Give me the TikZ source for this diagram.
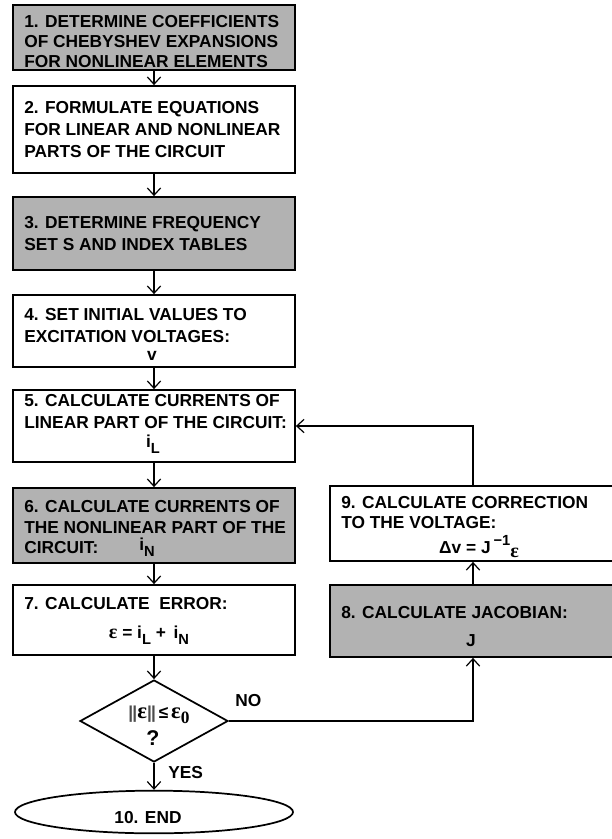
\documentclass[tikz,border=0pt]{standalone}
\usepackage{fontspec}
\setmainfont{Liberation Sans}
\newfontfamily\grk{Liberation Serif}
\usetikzlibrary{arrows.meta,shapes.geometric,fit}
\newcommand\mysub[1]{\raisebox{-4.5pt}{\fontsize{11}{11}\selectfont #1}}
\begin{document}
\begin{tikzpicture}[x=0.75pt,y=-0.75pt,
  box/.style={draw, line width=1.3pt, inner sep=0pt},
  shadebox/.style={box, fill=black!30},
  txt/.style={anchor=base west, inner sep=0pt, font=\fontsize{13}{15}\selectfont\bfseries},
  ctxt/.style={txt, anchor=base},
  arr/.style={line width=0.9pt, -{Straight Barb[length=5.5pt,width=10pt,line width=0.9pt]}}]
\useasboundingbox (0,0) rectangle (611,839);

% boxes
\node[shadebox, fit={(13,5) (295,70)}] (b1) {};
\node[box, fit={(13,86) (295,173)}] (b2) {};
\node[shadebox, fit={(13,197) (295,270)}] (b3) {};
\node[box, fit={(13,295) (295,367)}] (b4) {};
\node[box, fit={(13,390) (295,462)}] (b5) {};
\node[shadebox, fit={(13,488) (295,563)}] (b6) {};
\node[box, fit={(13,585) (295,655)}] (b7) {};
\node[box, fit={(330,486) (616,561)}] (b9) {};
\node[shadebox, fit={(330,585) (616,657)}] (b8) {};
\node[diamond, draw, line width=1.3pt, minimum width=111pt, minimum height=61.5pt, inner sep=0pt] (d) at (154,721) {};
\node[ellipse, draw, line width=1.3pt, minimum width=208.5pt, minimum height=32pt, inner sep=0pt] (e) at (154,812) {};

% texts
\node[txt] (t1a) at (24,27) {1. DETERMINE COEFFICIENTS};
\node[txt] (t1b) at (24,47) {OF CHEBYSHEV EXPANSIONS};
\node[txt] (t1c) at (24,67) {FOR NONLINEAR ELEMENTS};

\node[txt] (t2a) at (24,113) {2. FORMULATE EQUATIONS};
\node[txt] (t2b) at (24,135) {FOR LINEAR AND NONLINEAR};
\node[txt] (t2c) at (24,157) {PARTS OF THE CIRCUIT};

\node[txt] (t3a) at (24,228) {3. DETERMINE FREQUENCY};
\node[txt] (t3b) at (24,250) {SET S AND INDEX TABLES};

\node[txt] (t4a) at (24,320) {4. SET INITIAL VALUES TO};
\node[txt] (t4b) at (24,342) {EXCITATION VOLTAGES:};
\node[ctxt] (t4c) at (152,360) {v};

\node[txt] (t5a) at (24,406) {5. CALCULATE CURRENTS OF};
\node[txt] (t5b) at (24,428) {LINEAR PART OF THE CIRCUIT:};
\node[ctxt] (t5c) at (153,447) {i\mysub{L}};

\node[txt] (t6a) at (24,512) {6. CALCULATE CURRENTS OF};
\node[txt] (t6b) at (24,533) {THE NONLINEAR PART OF THE};
\node[txt] (t6c) at (24,553) {CIRCUIT:};
\node[ctxt] (t6d) at (147,550) {i\mysub{N}};

\node[txt] (t7a) at (24,609) {7. CALCULATE\ \ ERROR:};
\node[ctxt] (t7b) at (149,638) {{\grk\fontsize{15}{15}\selectfont ε} = i\mysub{L} + \,i\mysub{N}};

\node[txt] (t9a) at (341,508) {9. CALCULATE CORRECTION};
\node[txt] (t9b) at (341,528) {TO THE VOLTAGE:};
\node[ctxt] (t9c) at (479,553) {Δv = J\,\raisebox{6pt}{\fontsize{11}{11}\selectfont −1}\raisebox{-3pt}{\grk\fontsize{15}{15}\selectfont ε}};

\node[txt] (t8a) at (341,618) {8. CALCULATE JACOBIAN:};
\node[ctxt] (t8b) at (471,646) {J};

\node[ctxt] (td1) at (159,718) {{\color{black!70}|\kern-0.6pt|}{\grk\fontsize{17}{17}\selectfont ε}{\color{black!70}|\kern-0.6pt|}\,≤\,{\grk\fontsize{17}{17}\selectfont ε\raisebox{-4pt}{\fontsize{13}{13}\selectfont 0}}};
\node[ctxt, font=\fontsize{16}{16}\selectfont\bfseries] (td2) at (153,745) {?};

\node[txt] (tno) at (235,706) {NO};
\node[txt] (tyes) at (168,778) {YES};
\node[ctxt] (te) at (148,823) {10. END};

% connectors
\draw[arr] (b1) -- (b2);
\draw[arr] (b2) -- (b3);
\draw[arr] (b3) -- (b4);
\draw[arr] (b4) -- (b5);
\draw[arr] (b5) -- (b6);
\draw[arr] (b6) -- (b7);
\draw[arr] (b7) -- (d);
\draw[arr] (d) -- (e);
\draw[arr] (d.east) -| (b8.south);
\draw[arr] (b8.north) -- (b9.south);
\draw[arr] (b9.north) |- (b5.east);
\end{tikzpicture}
\end{document}
